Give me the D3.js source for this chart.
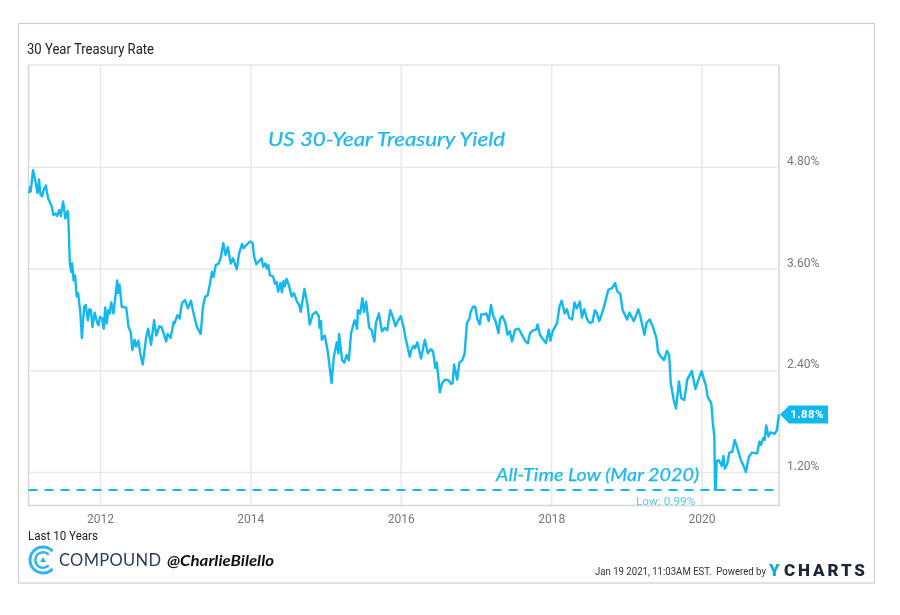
<!DOCTYPE html>
<html>
<head>
<meta charset="utf-8">
<script src="https://cdn.jsdelivr.net/npm/d3@7"></script>
<style>
html, body { margin: 0; padding: 0; background: #fff; }
svg { display: block; filter: blur(0.4px); font-family: Roboto, sans-serif; }
.hand { font-family: Lato, "Open Sans", sans-serif; font-style: italic; fill: #1cb8ef; stroke: #1cb8ef; stroke-width: 0.25; }
.axis-y path, .axis-x path { display: none; }
.axis-y line, .axis-x line { stroke: #e9e9e9; stroke-width: 1.5; }
.axis-y text, .axis-x text { fill: #777; font-size: 12px; font-family: Roboto, sans-serif; }
</style>
</head>
<body>
<div id="graphic"></div>
<script>
var dates = [
2011.06,2011.07,2011.08,2011.11,2011.14,2011.17,2011.19,2011.21,2011.23,2011.25,2011.28,2011.31,2011.36,2011.38,2011.41,2011.43,2011.46,2011.48,2011.51,2011.54,
2011.57,2011.58,2011.60,2011.62,2011.63,2011.65,2011.67,2011.69,2011.71,2011.74,2011.76,2011.79,2011.81,2011.84,2011.86,2011.88,2011.90,2011.93,2011.96,2011.98,
2012.00,2012.03,2012.05,2012.07,2012.09,2012.11,2012.13,2012.15,2012.18,2012.23,2012.24,2012.26,2012.29,2012.35,2012.38,2012.41,2012.43,2012.46,2012.48,2012.51,
2012.54,2012.57,2012.61,2012.64,2012.68,2012.72,2012.75,2012.79,2012.82,2012.88,2012.90,2012.94,2012.98,2012.99,2013.03,2013.06,2013.09,2013.13,2013.17,2013.21,
2013.24,2013.29,2013.34,2013.37,2013.40,2013.43,2013.46,2013.49,2013.51,2013.54,2013.58,2013.61,2013.64,2013.67,2013.70,2013.74,2013.77,2013.82,2013.85,2013.89,
2013.91,2013.95,2014.00,2014.03,2014.05,2014.08,2014.11,2014.15,2014.17,2014.20,2014.22,2014.24,2014.26,2014.30,2014.33,2014.35,2014.37,2014.40,2014.42,2014.44,
2014.46,2014.48,2014.51,2014.55,2014.58,2014.62,2014.65,2014.67,2014.72,2014.76,2014.79,2014.83,2014.87,2014.91,2014.92,2014.94,2014.95,2014.99,2015.03,2015.08,
2015.11,2015.15,2015.17,2015.18,2015.22,2015.25,2015.28,2015.31,2015.34,2015.37,2015.39,2015.42,2015.43,2015.46,2015.49,2015.51,2015.54,2015.58,2015.61,2015.65,
2015.67,2015.71,2015.75,2015.79,2015.82,2015.86,2015.89,2015.93,2015.96,2016.00,2016.04,2016.06,2016.12,2016.14,2016.17,2016.19,2016.22,2016.27,2016.32,2016.36,
2016.40,2016.43,2016.46,2016.48,2016.52,2016.55,2016.59,2016.64,2016.67,2016.69,2016.71,2016.75,2016.78,2016.82,2016.85,2016.88,2016.91,2016.93,2016.96,2016.99,
2017.02,2017.05,2017.07,2017.11,2017.14,2017.17,2017.20,2017.23,2017.26,2017.30,2017.32,2017.35,2017.39,2017.42,2017.45,2017.48,2017.52,2017.57,2017.61,2017.66,
2017.69,2017.72,2017.76,2017.80,2017.82,2017.85,2017.89,2017.93,2017.97,2017.99,2018.02,2018.08,2018.11,2018.14,2018.18,2018.21,2018.24,2018.28,2018.31,2018.34,
2018.38,2018.41,2018.44,2018.48,2018.51,2018.55,2018.58,2018.61,2018.64,2018.69,2018.72,2018.76,2018.81,2018.85,2018.88,2018.92,2018.95,2019.01,2019.04,2019.10,
2019.16,2019.19,2019.24,2019.27,2019.31,2019.35,2019.40,2019.42,2019.45,2019.50,2019.54,2019.57,2019.59,2019.63,2019.66,2019.70,2019.73,2019.77,2019.81,2019.87,
2019.92,2019.96,2020.00,2020.04,2020.06,2020.08,2020.13,2020.15,2020.17,2020.18,2020.19,2020.20,2020.23,2020.27,2020.29,2020.31,2020.34,2020.37,2020.41,2020.44,
2020.47,2020.52,2020.56,2020.59,2020.63,2020.67,2020.74,2020.77,2020.79,2020.82,2020.84,2020.86,2020.89,2020.92,2020.97,2021.00,2021.03
];
var rates = [
4.49,4.56,4.51,4.76,4.64,4.49,4.65,4.47,4.45,4.52,4.58,4.43,4.33,4.23,4.25,4.22,4.29,4.22,4.39,4.19,
4.28,4.19,3.66,3.56,3.66,3.46,3.52,3.27,3.31,3.07,2.78,3.15,3.17,2.99,3.12,3.11,2.91,3.08,2.97,2.93,
3.03,3.01,2.89,3.14,2.95,3.11,3.07,3.20,3.07,3.46,3.31,3.41,3.15,3.14,2.91,2.85,2.64,2.76,2.68,2.75,
2.58,2.47,2.76,2.89,2.70,2.99,2.81,2.92,2.91,2.74,2.83,2.78,2.97,2.95,3.05,3.01,3.19,3.23,3.13,3.22,
3.09,2.91,2.83,3.15,3.27,3.28,3.41,3.56,3.50,3.64,3.66,3.74,3.90,3.76,3.85,3.66,3.72,3.59,3.78,3.89,
3.84,3.88,3.92,3.90,3.74,3.65,3.68,3.72,3.62,3.66,3.60,3.64,3.52,3.51,3.42,3.44,3.33,3.43,3.32,3.45,
3.39,3.48,3.41,3.27,3.31,3.21,3.17,3.09,3.36,3.17,2.94,3.06,3.09,3.04,2.90,2.98,2.76,2.81,2.62,2.25,
2.56,2.73,2.60,2.83,2.52,2.49,2.58,2.52,2.84,2.94,2.99,2.89,3.11,3.07,3.25,3.09,3.21,2.90,2.88,2.74,
2.96,3.07,2.86,2.90,2.87,3.11,3.04,2.92,2.98,3.04,2.90,2.80,2.56,2.64,2.69,2.66,2.73,2.54,2.76,2.60,
2.65,2.62,2.43,2.49,2.14,2.25,2.29,2.28,2.24,2.25,2.47,2.29,2.49,2.52,2.60,2.96,3.00,3.09,3.15,3.15,
3.00,2.94,3.06,3.06,3.07,2.98,3.17,3.04,2.98,2.84,3.00,3.04,2.96,2.82,2.86,2.74,2.88,2.89,2.82,2.74,
2.72,2.84,2.87,2.88,2.94,2.82,2.77,2.72,2.88,2.75,2.86,2.96,3.15,3.22,3.07,3.12,3.02,3.00,3.20,3.13,
3.21,3.02,3.12,3.00,2.96,2.97,3.11,3.07,2.98,3.11,3.21,3.35,3.37,3.43,3.33,3.30,3.11,3.00,3.08,2.98,
3.12,3.02,2.82,2.96,3.00,2.92,2.78,2.62,2.57,2.52,2.63,2.58,2.25,2.05,1.95,2.27,2.07,2.05,2.29,2.39,
2.18,2.29,2.39,2.27,2.21,2.09,2.01,1.78,1.62,0.99,0.99,1.33,1.34,1.27,1.39,1.24,1.29,1.43,1.44,1.58,
1.50,1.35,1.27,1.20,1.38,1.43,1.42,1.56,1.52,1.60,1.58,1.75,1.62,1.67,1.65,1.69,1.88
];
var yearTicks = [2012, 2014, 2016, 2018, 2020];
var rateTicks = [1.2, 2.4, 3.6, 4.8];
var lowRate = 0.99;
var lastRate = 1.88;

var W = 900, H = 615;
var left = 28.5, right = 779, top_ = 65, bottom = 505.5;
var lineColor = "#14b8f0";

var x = d3.scaleLinear().domain([2011.05, 2021.03]).range([left, right]);
var y = d3.scaleLinear().domain([0.806, 6.0]).range([bottom, top_]);

var svg = d3.select("#graphic").append("svg")
  .attr("width", W)
  .attr("height", H);

// outer frame
svg.append("rect")
  .attr("x", 18.5).attr("y", 23.5)
  .attr("width", 856).attr("height", 559.5)
  .attr("fill", "#fff").attr("stroke", "#cfcfcf").attr("stroke-width", 1.2);

svg.append("text")
  .attr("x", 27).attr("y", 54)
  .attr("fill", "#222").attr("font-size", 14)
  .attr("textLength", 127).attr("lengthAdjust", "spacingAndGlyphs")
  .text("30 Year Treasury Rate");

var xAxis = d3.axisBottom(x)
  .tickValues(yearTicks)
  .tickFormat(d3.format("d"))
  .tickSize(top_ - bottom)
  .tickPadding(9);
svg.append("g").attr("class", "axis-x")
  .attr("transform", "translate(0," + bottom + ")")
  .call(xAxis);

var yAxis = d3.axisRight(y)
  .tickValues(rateTicks)
  .tickFormat(function(d) { return d.toFixed(2) + "%"; })
  .tickSize(left - right)
  .tickPadding(8);
svg.append("g").attr("class", "axis-y")
  .attr("transform", "translate(" + right + ",0)")
  .call(yAxis)
  .selectAll("text").attr("dy", "-0.2em");

// plot border, top is lighter than the sides
svg.append("line").attr("x1", left).attr("x2", right).attr("y1", top_).attr("y2", top_)
  .attr("stroke", "#e6e6e6").attr("stroke-width", 1.5);
svg.append("path")
  .attr("d", d3.line()([[left, top_], [left, bottom], [right, bottom], [right, top_]]))
  .attr("fill", "none").attr("stroke", "#d6d6d6").attr("stroke-width", 1.5);

// all time low reference
svg.append("line")
  .attr("x1", left).attr("x2", right)
  .attr("y1", y(lowRate)).attr("y2", y(lowRate))
  .attr("stroke", "#12b8f0").attr("stroke-width", 2)
  .attr("stroke-dasharray", "9,7");

var line = d3.line()
  .x(function(d, i) { return x(dates[i]); })
  .y(function(d) { return y(d); });

svg.append("path")
  .datum(rates)
  .attr("d", line)
  .attr("fill", "none")
  .attr("stroke", lineColor)
  .attr("stroke-width", 2.4)
  .attr("stroke-linejoin", "round");

// last value flag
var flagY = y(lastRate);
svg.append("path")
  .attr("d", d3.line()([[right + 1, flagY], [right + 10, flagY - 9], [828, flagY - 9], [828, flagY + 9], [right + 10, flagY + 9]]) + "Z")
  .attr("fill", "#0fb9f0");
svg.append("text")
  .attr("x", 807).attr("y", flagY + 4)
  .attr("text-anchor", "middle")
  .attr("fill", "#fff").attr("font-size", 11.5).attr("font-weight", 700)
  .style("letter-spacing", "0.4px")
  .text("1.88%");

svg.append("text")
  .attr("x", 636).attr("y", 505)
  .attr("fill", "#5cc8f2").attr("font-size", 11.8)
  .text("Low: 0.99%");

svg.append("text").attr("class", "hand")
  .attr("x", 268).attr("y", 146)
  .attr("font-size", 20)
  .attr("textLength", 237).attr("lengthAdjust", "spacingAndGlyphs")
  .text("US 30-Year Treasury Yield");

svg.append("text").attr("class", "hand")
  .attr("x", 496).attr("y", 481)
  .attr("font-size", 17)
  .attr("textLength", 203).attr("lengthAdjust", "spacingAndGlyphs")
  .text("All-Time Low (Mar 2020)");

svg.append("text")
  .attr("x", 28).attr("y", 540)
  .attr("fill", "#222").attr("font-size", 12.5)
  .attr("textLength", 70).attr("lengthAdjust", "spacingAndGlyphs")
  .text("Last 10 Years");

// compound logo, two open rings and a small triangle
var logo = svg.append("g").attr("transform", "translate(43,560)");
var arc = d3.arc();
[[11.5, 14.5], [6.5, 9]].forEach(function(r) {
  logo.append("path")
    .attr("d", arc({ innerRadius: r[0], outerRadius: r[1], startAngle: Math.PI / 2 + 0.75, endAngle: Math.PI * 2.5 - 0.75 }))
    .attr("fill", "#2fb5e9");
});
logo.append("path").attr("d", "M0,-3L3,2L-3,2Z").attr("fill", "#2fb5e9");

svg.append("text")
  .attr("x", 59).attr("y", 566)
  .attr("fill", "#2b3a5e").attr("font-size", 16.5)
  .attr("font-family", "Lato, sans-serif")
  .attr("textLength", 102).attr("lengthAdjust", "spacing")
  .text("COMPOUND");

svg.append("text")
  .attr("x", 167).attr("y", 566)
  .attr("fill", "#111").attr("font-size", 16).attr("font-style", "italic").attr("font-weight", 700)
  .attr("font-family", "Lato, sans-serif")
  .attr("textLength", 107).attr("lengthAdjust", "spacingAndGlyphs")
  .text("@CharlieBilello");

svg.append("text")
  .attr("x", 595).attr("y", 575)
  .attr("fill", "#333").attr("font-size", 10.8)
  .attr("textLength", 171).attr("lengthAdjust", "spacingAndGlyphs")
  .attr("xml:space", "preserve")
  .text("Jan 19 2021, 11:03AM EST.  Powered by");

svg.append("text")
  .attr("x", 769).attr("y", 576)
  .attr("fill", "#12a5e0").attr("font-size", 17).attr("font-weight", 900)
  .text("Y");
svg.append("text")
  .attr("x", 784).attr("y", 576)
  .attr("fill", "#1d2733").attr("font-size", 17).attr("font-weight", 900)
  .attr("textLength", 81).attr("lengthAdjust", "spacing")
  .text("CHARTS");
</script>
</body>
</html>
